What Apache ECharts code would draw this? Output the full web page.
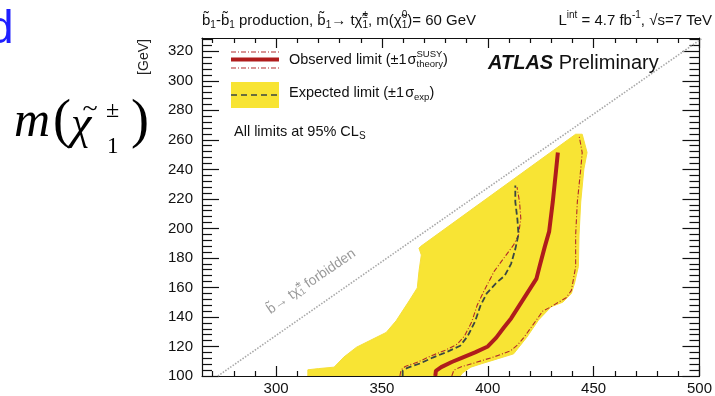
<!DOCTYPE html>
<html><head><meta charset="utf-8">
<script src="https://cdn.jsdelivr.net/npm/echarts@6/dist/echarts.min.js"></script>
<style>html,body{margin:0;padding:0;background:#fff}#c{width:715px;height:396px}</style>
</head><body><div id="c"></div>
<script>
// ---------- data ----------
const xMajorTicks = [300, 350, 400, 450, 500];
const xMinorTicks = [270, 280, 290, 310, 320, 330, 340, 360, 370, 380, 390, 410, 420, 430, 440, 460, 470, 480, 490];
const yMajorTicks = [100, 120, 140, 160, 180, 200, 220, 240, 260, 280, 300, 320];
const yMinorTicks = [104, 108, 112, 116, 124, 128, 132, 136, 144, 148, 152, 156, 164, 168, 172, 176, 184, 188, 192, 196, 204, 208, 212, 216, 224, 228, 232, 236, 244, 248, 252, 256, 264, 268, 272, 276, 284, 288, 292, 296, 304, 308, 312, 316, 324, 328];

const expectedBand = [
  [315, 100], [315, 104.2], [320, 105], [327.4, 106], [332, 112.8], [338, 119.5], [344.3, 124], [352, 129.5],
  [356.7, 137.4], [362.8, 150.8], [366.7, 159.7], [367.5, 171], [368.6, 182], [367.5, 186.6], [368.2, 187.7],
  [441.5, 263.8], [444.6, 263.8], [446.9, 251.4], [445.4, 240.3], [443.9, 217.9], [443.1, 195.5], [442.8, 174.2],
  [441, 163], [439.5, 156], [435.4, 150], [430, 147], [424, 138], [418.4, 126.2], [412.2, 115], [404.5, 111.6],
  [397, 108.3], [392, 106], [388, 102], [387, 100]
];
const expectedLimit = [
  [359.8, 100], [359.8, 103.5], [362, 105.5], [368, 108.5], [374, 112.5], [381, 116.5], [387, 120.5], [390.5, 127],
  [394, 137], [396.5, 147.5], [399.5, 156], [404, 163], [408, 168], [411, 176], [413, 186], [414.5, 196],
  [414, 206], [413, 218], [413, 229]
];
const observedLimit = [
  [375.2, 100], [375.5, 103.5], [378, 106], [383, 109.5], [388, 112.5], [394, 116], [400, 120], [404, 126],
  [407.6, 132.9], [411, 139], [415, 148], [419, 157], [423, 166], [424.6, 175], [427, 188], [429, 198],
  [430.7, 218], [432.3, 240], [433.1, 251.4]
];
const observedPlus = [
  [383, 100], [384, 104], [388, 106.5], [394, 109], [403, 113], [410.7, 117], [414, 121], [417, 126], [421, 134],
  [426, 144], [430, 147], [434, 150.5], [437, 153], [439.5, 158], [440.5, 166], [441.5, 174], [441.5, 195.5],
  [442.3, 218], [443.9, 240], [444.6, 251.4], [443.1, 263]
];
const observedMinus = [
  [358.5, 100], [359, 104], [361, 106.5], [367, 109.5], [373, 113.5], [380, 117.5], [385.5, 121.5], [389, 127],
  [392.5, 137], [395, 148], [398, 157], [400.6, 164.2], [403, 170.9], [407.6, 179.9], [412.2, 188.8], [414.5, 195.5],
  [415.6, 206.7], [415, 218], [413.8, 228]
];
const forbiddenLine = [[272.5, 100], [501.5, 329]];

// ---------- helpers ----------
const FONT = '"Liberation Sans", Arial, sans-serif';
const SERIF = '"Liberation Serif", "Times New Roman", serif';
const mctx = document.createElement('canvas').getContext('2d');
function mw(t, size, fam, st, w) { mctx.font = (st || 'normal') + ' ' + (w || 'normal') + ' ' + size + 'px ' + fam; return mctx.measureText(t).width; }
function txt(x, base, t, size, o) {
  o = o || {};
  return { type: 'text', silent: true, z: 100, style: { x: x, y: base - 0.345 * size, text: t, fontSize: size,
    fontFamily: o.f || FONT, fontStyle: o.st || 'normal', fontWeight: o.w || 'normal', fill: o.c || '#111',
    align: o.al || 'left', verticalAlign: 'middle' } };
}
function seq(x0, base, parts, def) {
  const els = []; let x = x0, lastStart = x0;
  parts.forEach(p => {
    const q = Object.assign({}, def || {}, p);
    const xs = q.stack ? lastStart : x;
    const w = mw(q.t, q.s, q.f || FONT, q.st, q.w);
    els.push(txt(xs + (q.dx || 0), base + (q.dy || 0), q.t, q.s, q));
    if (q.stack) { x = Math.max(x, xs + w + (q.dx || 0)); } else { lastStart = xs + (q.dx || 0); x = xs + w + (q.dx || 0); }
  });
  return els;
}
function seqWidth(parts, def) {
  let x = 0, lastStart = 0;
  parts.forEach(p => {
    const q = Object.assign({}, def || {}, p);
    const xs = q.stack ? lastStart : x;
    const w = mw(q.t, q.s, q.f || FONT, q.st, q.w);
    if (q.stack) { x = Math.max(x, xs + w + (q.dx || 0)); } else { lastStart = xs + (q.dx || 0); x = xs + w + (q.dx || 0); }
  });
  return x;
}

function xa(pos, ticks, len, line, label) {
  return { type: 'value', position: pos, min: 265, max: 500,
    axisLine: { show: line, onZero: false, lineStyle: { color: '#111', width: 1.2 } },
    axisTick: { show: true, inside: true, length: len, customValues: ticks, lineStyle: { color: '#111', width: 1.2 } },
    axisLabel: label ? { show: true, customValues: xMajorTicks, fontSize: 15, color: '#111', fontFamily: FONT, margin: 5 } : { show: false },
    splitLine: { show: false } };
}
function ya(pos, ticks, len, line, label) {
  return { type: 'value', position: pos, min: 100, max: 329,
    axisLine: { show: line, onZero: false, lineStyle: { color: '#111', width: 1.2 } },
    axisTick: { show: true, inside: true, length: len, customValues: ticks, lineStyle: { color: '#111', width: 1.2 } },
    axisLabel: label ? { show: true, customValues: yMajorTicks, fontSize: 15, color: '#111', fontFamily: FONT, margin: 9 } : { show: false },
    splitLine: { show: false } };
}

// ---------- text graphics ----------
const g = [];
// cut-off blue letter
g.push(txt(-12, 46, 'd', 46, { c: '#1f1fff' }));
// big axis label m(chi~_1^+-)
g.push(txt(14, 140, 'm', 50, { f: SERIF, st: 'italic', c: '#000' }));
g.push(txt(53, 141, '(', 54, { f: SERIF, c: '#000' }));
g.push(txt(71, 142, 'χ', 46, { f: SERIF, st: 'italic', c: '#000' }));
g.push(txt(90, 119, '~', 28, { f: SERIF, c: '#000', al: 'center' }));
g.push(txt(107, 155, '1', 23, { f: SERIF, c: '#000' }));
g.push(txt(106, 119, '±', 24, { f: SERIF, c: '#000' }));
g.push(txt(131, 141, ')', 54, { f: SERIF, c: '#000' }));
// [GeV]
g.push({ type: 'text', silent: true, x: 144, y: 57, rotation: Math.PI / 2,
  style: { x: 0, y: 0, text: '[GeV]', fontSize: 14, fontFamily: FONT, fill: '#222', align: 'center', verticalAlign: 'middle' } });
// titles
g.push(...seq(202, 26, [
  { t: 'b\u0303', s: 15 }, { t: '1', s: 10, dy: 3 }, { t: '-b\u0303', s: 15 }, { t: '1', s: 10, dy: 3 },
  { t: ' production, b\u0303', s: 15 }, { t: '1', s: 10, dy: 3 }, { t: '→ tχ\u0303', s: 15 },
  { t: '1', s: 10, dy: 3 }, { t: '±', s: 10, dy: -7, stack: true },
  { t: ', m(χ\u0303', s: 15 }, { t: '1', s: 10, dy: 3 }, { t: '0', s: 10, dy: -7, stack: true },
  { t: ')= 60 GeV', s: 15 }
]));
(function () {
  const parts = [
    { t: 'L', s: 15 }, { t: 'int', s: 10, dy: -7 }, { t: ' = 4.7 fb', s: 15 }, { t: '-1', s: 10, dy: -7 },
    { t: ', √s=7 TeV', s: 15 }
  ];
  g.push(...seq(712 - seqWidth(parts), 26, parts));
})();
// legend
g.push({ type: 'line', silent: true, z: 100, shape: { x1: 231, y1: 52, x2: 279, y2: 52 }, style: { stroke: '#b22a2a', lineWidth: 1.2, lineDash: [5, 2, 1, 2] } });
g.push({ type: 'line', silent: true, z: 100, shape: { x1: 231, y1: 59.5, x2: 279, y2: 59.5 }, style: { stroke: '#b01c1c', lineWidth: 4 } });
g.push({ type: 'line', silent: true, z: 100, shape: { x1: 231, y1: 68, x2: 279, y2: 68 }, style: { stroke: '#b22a2a', lineWidth: 1.2, lineDash: [5, 2, 1, 2] } });
g.push({ type: 'rect', silent: true, z: 100, shape: { x: 231, y: 82, width: 48, height: 26 }, style: { fill: '#f8e434' } });
g.push({ type: 'line', silent: true, z: 101, shape: { x1: 231, y1: 95, x2: 279, y2: 95 }, style: { stroke: '#3a4742', lineWidth: 1.6, lineDash: [6, 4] } });
g.push(...seq(289, 65, [
  { t: 'Observed limit (±1', s: 14.5 }, { t: 'σ', s: 14.5, dx: 1 },
  { t: 'SUSY', s: 9.5, dy: -7 }, { t: 'theory', s: 9.5, dy: 3, stack: true }, { t: ')', s: 14.5 }
]));
g.push(...seq(289, 98, [
  { t: 'Expected limit (±1', s: 14.5 }, { t: 'σ', s: 14.5, dx: 1 }, { t: 'exp', s: 9.5, dy: 3 }, { t: ')', s: 14.5 }
]));
g.push(...seq(234, 137, [
  { t: 'All limits at 95% CL', s: 14.5 }, { t: 'S', s: 10, dy: 3 }
]));
g.push(...seq(488, 70, [
  { t: 'ATLAS', s: 20, st: 'italic', w: 'bold' }, { t: ' Preliminary', s: 20 }
], { c: '#111' }));
// forbidden label along diagonal
g.push({ type: 'group', x: 271, y: 315, rotation: 0.6, children: seq(0, 0, [
  { t: 'b\u0303', s: 14 }, { t: '→ tχ\u0303', s: 14 }, { t: '1', s: 9, dy: 2 }, { t: '±', s: 9, dy: -7, stack: true },
  { t: ' forbidden', s: 14 }
], { c: '#9a9a9a' }) });

// ---------- chart ----------
const chart = echarts.init(document.getElementById('c'), null, { renderer: 'canvas' });
chart.setOption({
  animation: false,
  backgroundColor: '#fff',
  grid: { left: 202, right: 7, top: 38, bottom: 17 },
  xAxis: [
    xa('bottom', xMajorTicks, 10, true, true),
    xa('bottom', xMinorTicks, 5, false, false),
    xa('top', xMajorTicks, 10, true, false),
    xa('top', xMinorTicks, 5, false, false)
  ],
  yAxis: [
    ya('left', yMajorTicks, 17, true, true),
    ya('left', yMinorTicks, 10, false, false),
    ya('right', yMajorTicks, 17, true, false),
    ya('right', yMinorTicks, 10, false, false)
  ],
  series: [
    { type: 'custom', name: 'Expected band', xAxisIndex: 0, yAxisIndex: 0, clip: true, silent: true, z: 1,
      data: expectedBand,
      renderItem: function (params, api) {
        if (params.dataIndex !== 0) return null;
        const pts = expectedBand.map(p => api.coord(p));
        return { type: 'polygon', shape: { points: pts }, style: { fill: '#f8e434', stroke: '#f6df3a', lineWidth: 1 } };
      } },
    { type: 'line', name: 'forbidden', data: forbiddenLine, symbol: 'none', silent: true, z: 2,
      lineStyle: { color: '#a8a8a8', width: 1.6, type: [1.5, 1.5] } },
    { type: 'line', name: 'Observed +1', data: observedPlus, symbol: 'none', silent: true, z: 3,
      lineStyle: { color: '#b22a2a', width: 1.1, type: [5, 2, 1, 2] } },
    { type: 'line', name: 'Observed -1', data: observedMinus, symbol: 'none', silent: true, z: 3,
      lineStyle: { color: '#b22a2a', width: 1.1, type: [5, 2, 1, 2] } },
    { type: 'line', name: 'Expected', data: expectedLimit, symbol: 'none', silent: true, z: 4,
      lineStyle: { color: '#3a4742', width: 1.8, type: [6, 3] } },
    { type: 'line', name: 'Observed', data: observedLimit, symbol: 'none', silent: true, z: 5,
      lineStyle: { color: '#b01c1c', width: 4 } }
  ],
  graphic: g
});
</script>
</body></html>
